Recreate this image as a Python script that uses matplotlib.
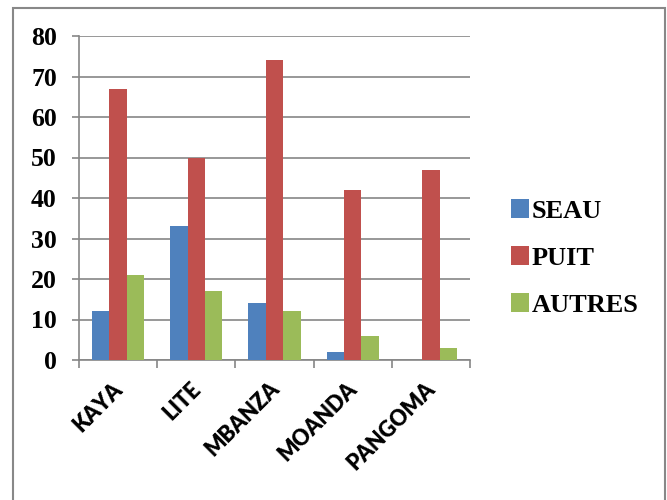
import numpy as np
import matplotlib
matplotlib.use('Agg')
import matplotlib.pyplot as plt
from matplotlib.patches import Rectangle
from matplotlib.transforms import ScaledTranslation

categories = ['KAYA', 'LITE', 'MBANZA', 'MOANDA', 'PANGOMA']
seau = [12, 33, 14, 2, 0]
puit = [67, 50, 74, 42, 47]
autres = [21, 17, 12, 6, 3]
series_names = ['SEAU', 'PUIT', 'AUTRES']
colors = ['#4F81BD', '#C0504D', '#9BBB59']

fig = plt.figure(figsize=(6.67, 5), dpi=100)
ax = fig.add_axes([0.1184, 0.28, 0.5862, 0.648])

x = np.arange(len(categories))
w = 1 / 4.5
for i, (vals, name, c) in enumerate(zip([seau, puit, autres], series_names, colors)):
    ax.bar(x + (i - 1) * w, vals, width=w, color=c, label=name, zorder=3)

ax.set_xlim(-0.5, len(categories) - 0.5)
ax.set_ylim(0, 80)
ax.set_yticks(range(0, 81, 10))
ax.yaxis.grid(True, color='#868686', linewidth=1.2, zorder=0)
ax.set_xticks(np.arange(-0.5, len(categories), 1))
ax.set_xticklabels([])
ax.set_xticks(x, minor=True)
ax.set_xticklabels(categories, minor=True, rotation=45, ha='right', va='top',
                   rotation_mode='anchor', fontsize=15.5, fontweight='heavy', family='Lato')
ax.tick_params(axis='x', which='minor', length=0, pad=13)
ax.tick_params(axis='x', which='major', length=6, color='#868686', width=1.2)
ax.tick_params(axis='y', length=5, color='#868686', width=1.2, pad=11)
shift = ScaledTranslation(-6 / 100, 0, fig.dpi_scale_trans)
for lab in ax.get_xticklabels(minor=True):
    lab.set_transform(lab.get_transform() + shift)
for lab in ax.get_yticklabels():
    lab.set_fontsize(18.5)
    lab.set_fontweight('bold')
    lab.set_family('Liberation Serif')

for s in ['top', 'right']:
    ax.spines[s].set_visible(False)
for s in ['left', 'bottom']:
    ax.spines[s].set_color('#868686')
    ax.spines[s].set_linewidth(1.2)

fig.legend(loc='center left', bbox_to_anchor=(0.73, 0.484), frameon=False,
           prop={'family': 'Liberation Serif', 'weight': 'bold', 'size': 19},
           handlelength=0.7, handleheight=0.7, labelspacing=0.9, handletextpad=0.1)

fig.patches.append(Rectangle((0.0195, -0.05), 0.978, 1.034, transform=fig.transFigure,
                             fill=False, edgecolor='#888888', linewidth=1.5))

fig.savefig('out.png', dpi=100)
